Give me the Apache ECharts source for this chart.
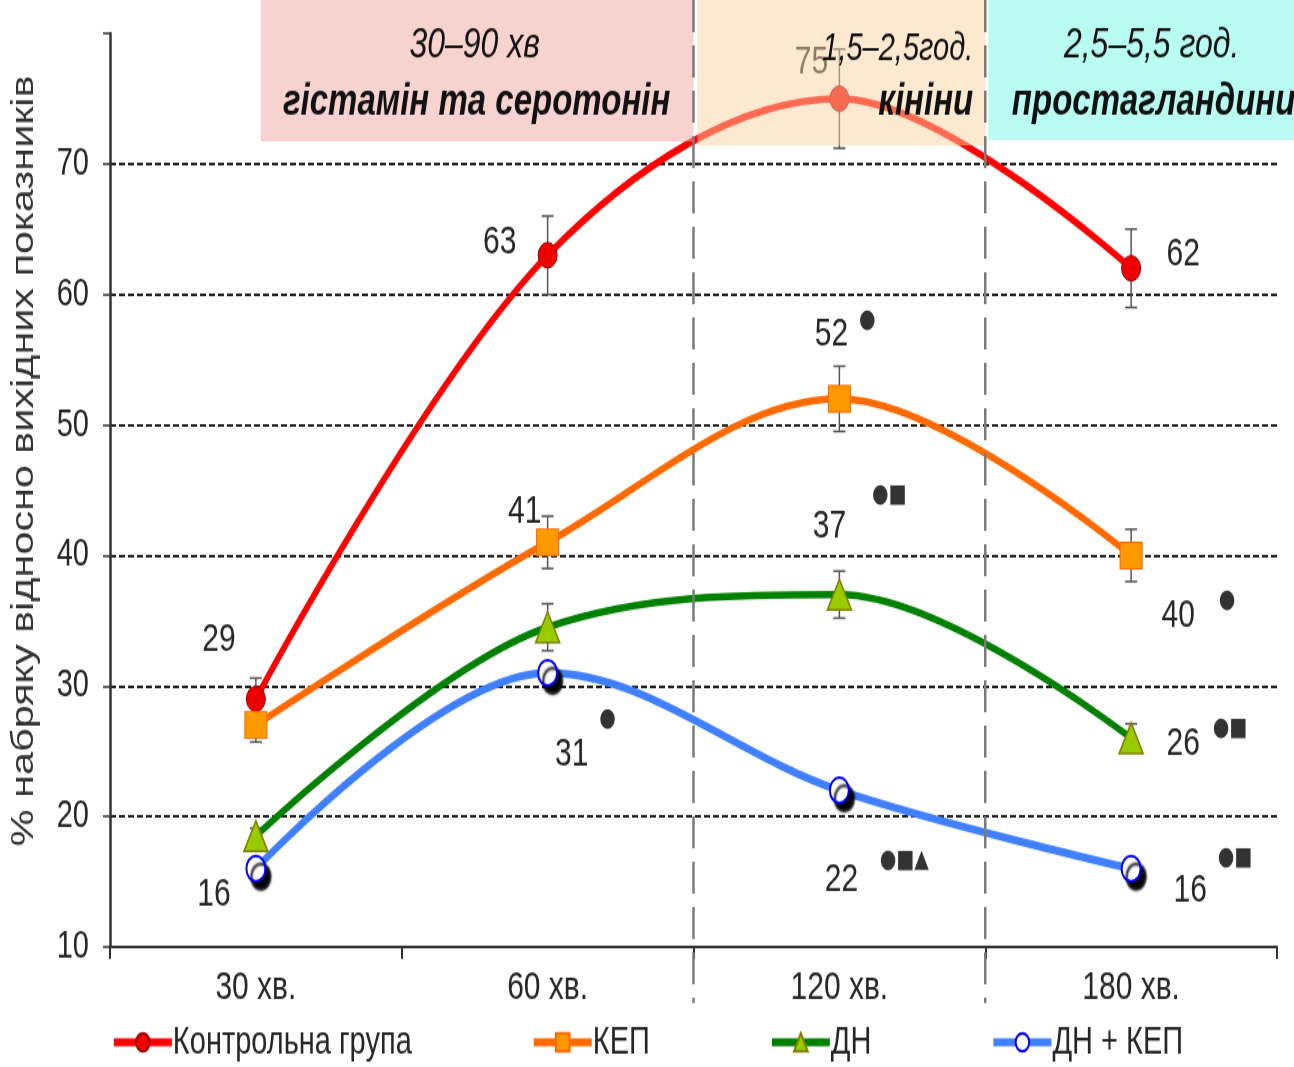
<!DOCTYPE html>
<html>
<head>
<meta charset="utf-8">
<script src="https://cdn.jsdelivr.net/npm/echarts@6/dist/echarts.min.js"></script>
<style>
  html, body { margin: 0; padding: 0; background: #ffffff; width: 1294px; height: 1067px; }
  /* the chart is laid out at 1294x800 and stretched to the 1067px page height */
  #chart { width: 1294px; height: 800px; transform: scaleY(1.33375); transform-origin: 0 0; }
</style>
</head>
<body>
<div id="chart"></div>
<script>
// Time points after edema induction
const categories = ['30 хв.', '60 хв.', '120 хв.', '180 хв.'];
const seriesNames = ['Контрольна група', 'КЕП', 'ДН', 'ДН + КЕП'];

// Edema, % of baseline (mean) and error (half-width of bar)
const controlValues = [29, 63, 75, 62];
const controlErrors = [1.6, 3, 3.8, 3];
const kepValues = [27, 41, 52, 40];
const kepErrors = [1.3, 2, 2.5, 2];
const dnValues = [18.5, 34.5, 37, 26];
const dnErrors = [0.6, 1.8, 1.8, 1.1];
const dnKepValues = [16, 31, 22, 16];
const dnKepErrors = [0.5, 0.8, 0.7, 0.6];

// Which points carry a value label
const controlLabeled = [true, true, true, true];
const kepLabeled = [false, true, true, true];
const dnLabeled = [false, false, true, true];
const dnKepLabeled = [true, true, true, true];

// Significance marks (● vs control, ■ vs КЕП, ▲ vs ДН)
const kepSigns = ['', '', '●', '●'];
const dnSigns = ['', '', '●■', '●■'];
const dnKepSigns = ['', '●', '●■▲', '●■'];

// Inflammation phases shown above the plot
const phaseTimes = ['30–90 хв', '1,5–2,5год.', '2,5–5,5 год.'];
const phaseMediators = ['гістамін та серотонін', 'кініни', 'простагландини'];

const yMin = 10, yMax = 80, yStep = 10;

const FONT = "'Liberation Sans', Arial, sans-serif";
const TEXT = '#262626';

// label placement relative to each point, px (chart space)
const labelOffsets = {
  control: [[-37, -44], [-48, -10], [-28, -27], [52, -10]],
  kep: [null, [-23, -23], [-8, -48], [47, 45]],
  dn: [null, null, [-10, -51], [52, 4]],
  dnKep: [[-42, 19], [24, 61], [2, 67], [59, 16]]
};
const signOffsets = {
  kep: [null, null, [28, -59], [96, 34]],
  dn: [null, null, [50, -75], [99, -7]],
  dnKep: [null, [60, 35], [65, 52], [104, -8]]
};

function pointData(values, labeled, offsets) {
  return values.map((v, i) => ({
    value: v,
    label: labeled[i] ? { show: true, position: 'inside', offset: offsets[i], formatter: String(Math.round(v)) } : { show: false }
  }));
}

function signData(values, signs, offsets) {
  return values.map((v, i) => ({
    value: [i, v],
    label: signs[i] ? { show: true, position: 'inside', offset: offsets[i], formatter: signs[i] } : { show: false }
  }));
}

function errorSeries(values, errors) {
  return {
    type: 'custom',
    silent: true,
    z: 1,
    data: values.map((v, i) => [i, v, errors[i]]),
    renderItem: function (params, api) {
      const i = api.value(0), v = api.value(1), e = api.value(2);
      const top = api.coord([i, v + e]);
      const bot = api.coord([i, v - e]);
      const cap = 6;
      const style = { stroke: '#555555', lineWidth: 1.5 };
      return {
        type: 'group',
        children: [
          { type: 'line', shape: { x1: top[0], y1: top[1], x2: bot[0], y2: bot[1] }, style: style },
          { type: 'line', shape: { x1: top[0] - cap, y1: top[1], x2: top[0] + cap, y2: top[1] }, style: style },
          { type: 'line', shape: { x1: bot[0] - cap, y1: bot[1], x2: bot[0] + cap, y2: bot[1] }, style: style }
        ]
      };
    }
  };
}

function signSeries(values, signs, offsets) {
  return {
    type: 'scatter',
    silent: true,
    symbolSize: 0,
    z: 5,
    data: signData(values, signs, offsets),
    label: { color: '#000', fontSize: 19, fontFamily: 'DejaVu Sans, sans-serif' }
  };
}

const valueLabel = { color: TEXT, fontSize: 30, fontFamily: FONT };
const SMOOTH = 0.35;

const chart = echarts.init(document.getElementById('chart'), null, { renderer: 'canvas' });

const option = {
  backgroundColor: '#ffffff',
  animation: false,
  grid: { left: 110, right: 17, top: 25, bottom: 90, containLabel: false },
  legend: {
    data: seriesNames,
    left: 'center',
    top: 762,
    itemWidth: 58,
    itemHeight: 17,
    itemGap: 119,
    lineStyle: { width: 6 },
    textStyle: { color: TEXT, fontSize: 29, fontFamily: FONT, padding: [0, 0, 0, -4] },
    itemStyle: { shadowColor: 'transparent', shadowBlur: 0, shadowOffsetX: 0, shadowOffsetY: 0 }
  },
  xAxis: {
    type: 'category',
    data: categories,
    boundaryGap: true,
    axisLine: { lineStyle: { color: '#333', width: 2 } },
    axisTick: { show: true, length: 9, lineStyle: { color: '#333', width: 2 } },
    axisLabel: { color: TEXT, fontSize: 30, fontFamily: FONT, margin: 16 },
    splitLine: { show: false }
  },
  yAxis: {
    type: 'value',
    min: yMin,
    max: yMax,
    interval: yStep,
    name: '% набряку відносно вихідних показників',
    nameLocation: 'middle',
    nameGap: 70,
    nameRotate: 90,
    nameTextStyle: { color: '#333', fontSize: 31, fontFamily: FONT, padding: [0, 0, 0, 44] },
    axisLine: { show: true, lineStyle: { color: '#333', width: 2.5 } },
    axisTick: { show: true, length: 7, lineStyle: { color: '#333', width: 1.5 } },
    axisLabel: {
      color: TEXT, fontSize: 29, fontFamily: FONT, margin: 21,
      formatter: v => (v >= yMax ? '' : String(v))
    },
    splitLine: { show: true, showMinLine: false, showMaxLine: false, lineStyle: { color: '#222', width: 2, type: [6, 3] } }
  },
  series: [
    errorSeries(controlValues, controlErrors),
    errorSeries(kepValues, kepErrors),
    errorSeries(dnValues, dnErrors),
    errorSeries(dnKepValues, dnKepErrors),
    {
      name: seriesNames[0], type: 'line', smooth: SMOOTH, z: 3,
      data: pointData(controlValues, controlLabeled, labelOffsets.control),
      symbol: 'circle', symbolSize: 19,
      lineStyle: { color: '#ff0000', width: 5.5 },
      itemStyle: { color: '#ee0000', borderColor: '#a00000', borderWidth: 1 },
      label: valueLabel
    },
    {
      name: seriesNames[1], type: 'line', smooth: SMOOTH, z: 3,
      data: pointData(kepValues, kepLabeled, labelOffsets.kep),
      symbol: 'rect', symbolSize: [22, 20],
      lineStyle: { color: '#ff6a00', width: 5.5 },
      itemStyle: { color: '#ff9900', borderColor: '#ff6600', borderWidth: 1 },
      label: valueLabel
    },
    {
      name: seriesNames[2], type: 'line', smooth: SMOOTH, z: 3,
      data: pointData(dnValues, dnLabeled, labelOffsets.dn),
      symbol: 'triangle', symbolSize: [24, 23],
      lineStyle: { color: '#008000', width: 5.5 },
      itemStyle: { color: '#99cc00', borderColor: '#808000', borderWidth: 1.5 },
      label: valueLabel
    },
    {
      name: seriesNames[3], type: 'line', smooth: SMOOTH, z: 3,
      data: pointData(dnKepValues, dnKepLabeled, labelOffsets.dnKep),
      symbol: 'circle', symbolSize: 19,
      lineStyle: { color: '#4080ff', width: 6 },
      itemStyle: { color: '#ffffff', borderColor: '#0000ff', borderWidth: 2, shadowColor: '#000000', shadowOffsetX: 5, shadowOffsetY: 6, shadowBlur: 2 },
      label: valueLabel
    },
    signSeries(kepValues, kepSigns, signOffsets.kep),
    signSeries(dnValues, dnSigns, signOffsets.dn),
    signSeries(dnKepValues, dnKepSigns, signOffsets.dnKep)
  ]
};

chart.setOption(option);

// Phase boxes and boundary lines, placed from the category axis
const cx = i => chart.convertToPixel({ xAxisIndex: 0 }, i);
const b1 = (cx(1) + cx(2)) / 2;   // 90 min
const b2 = (cx(2) + cx(3)) / 2;   // 150 min
const W = chart.getWidth();

const boxText = (txt, x, y, bold, align, size) => ({
  type: 'text', z: 120,
  style: {
    text: txt, x: x, y: y, align: align || 'center', verticalAlign: 'middle',
    fill: '#111', fontFamily: FONT, fontStyle: 'italic',
    fontWeight: bold ? 'bold' : 'normal', fontSize: size
  }
});

chart.setOption({
  graphic: [
    { type: 'rect', z: 100, shape: { x: cx(0) + 5, y: 0, width: b1 - cx(0) - 5, height: 106 }, style: { fill: 'rgba(239,168,160,0.5)' } },
    { type: 'rect', z: 100, shape: { x: b1 + 4, y: 0, width: b2 - b1 - 4, height: 109 }, style: { fill: 'rgba(251,211,161,0.5)' } },
    { type: 'rect', z: 100, shape: { x: b2 + 3, y: 0, width: W - b2 - 3, height: 105 }, style: { fill: 'rgba(115,250,228,0.5)' } },
    { type: 'line', z: 110, shape: { x1: b1, y1: 0, x2: b1, y2: 752 }, style: { stroke: '#7a7a7a', lineWidth: 2.5, lineDash: [24, 10] } },
    { type: 'line', z: 110, shape: { x1: b2, y1: 0, x2: b2, y2: 752 }, style: { stroke: '#7a7a7a', lineWidth: 2.5, lineDash: [24, 10] } },
    boxText(phaseTimes[0], (cx(0) + b1) / 2, 34, false, 'center', 32),
    boxText(phaseMediators[0], (cx(0) + b1) / 2 + 2, 77, true, 'center', 33),
    boxText(phaseTimes[1], b2 - 12, 37, false, 'right', 29),
    boxText(phaseMediators[1], b2 - 12, 77, true, 'right', 33),
    boxText(phaseTimes[2], (b2 + W) / 2 + 12, 34, false, 'center', 32),
    boxText(phaseMediators[2], (b2 + W) / 2 + 14, 77, true, 'center', 33)
  ]
});
</script>
</body>
</html>
